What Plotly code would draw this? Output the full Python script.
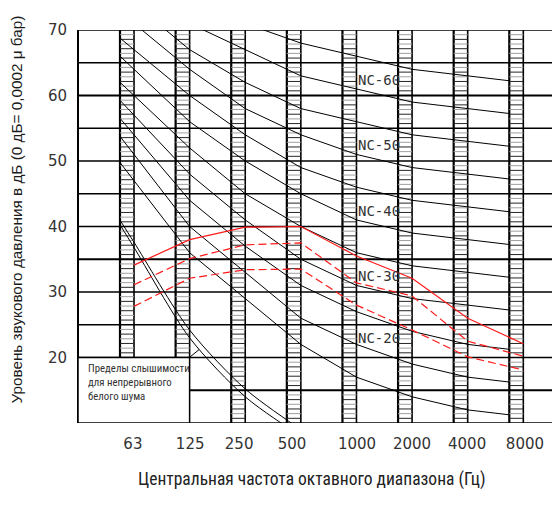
import numpy as np
import plotly.graph_objects as go

# ---------------- data ----------------
bands = ["63", "125", "250", "500", "1000", "2000", "4000", "8000"]

nc15 = [47, 36, 29, 22, 17, 14, 12, 11]
nc20 = [51, 40, 33, 26, 22, 19, 17, 16]
nc25 = [54, 44, 37, 31, 27, 24, 22, 21]
nc30 = [57, 48, 41, 35, 31, 29, 28, 27]
nc35 = [60, 52, 45, 40, 36, 34, 33, 32]
nc40 = [64, 56, 50, 45, 41, 39, 38, 37]
nc45 = [67, 60, 54, 49, 46, 44, 43, 42]
nc50 = [71, 64, 58, 54, 51, 49, 48, 47]
nc55 = [74, 67, 62, 58, 56, 54, 53, 52]
nc60 = [77, 71, 67, 63, 61, 59, 58, 57]
nc65 = [80, 75, 71, 68, 66, 64, 63, 62]
nc_curves = [nc15, nc20, nc25, nc30, nc35, nc40, nc45, nc50, nc55, nc60, nc65]
nc_names = ["NC-15", "NC-20", "NC-25", "NC-30", "NC-35", "NC-40",
            "NC-45", "NC-50", "NC-55", "NC-60", "NC-65"]
labelled = ["NC-20", "NC-30", "NC-40", "NC-50", "NC-60"]

red_solid = [34.1, 38.0, 39.9, 40.0, 35.5, 32.1, 26.0, 22.1]
red_dash_upper = [31.1, 35.1, 37.2, 37.5, 31.4, 29.4, 22.5, 20.2]
red_dash_lower = [27.8, 32.1, 33.4, 33.5, 28.0, 24.2, 20.1, 18.1]

# threshold of hearing (63 .. 500 Hz)
threshold_a = [36.8, 23.0, 14.0, 8.0]
threshold_b = [37.6, 24.2, 15.2, 9.0]

y_ticks = [20, 30, 40, 50, 60, 70]

# ---------------- style ----------------
W = 0.2517                     # ladder width (band point sits on its right edge)
X_MIN, X_MAX = -1.007, 7.66    # axis range, band index units
FRAME_L, FRAME_R = -W, 7 - W   # curves are drawn between ladder 0 and ladder 7 left edges
Y_MIN, Y_MAX = 10, 70
label_offsets = [-0.02, 0.01, -0.11, -0.16, 0.01, 0.0, -0.01, 0.03]
NARROW = "Roboto Condensed, Liberation Sans Narrow, Arial Narrow, DejaVu Sans Condensed, sans-serif"

idx = np.arange(len(bands))
fig = go.Figure()


def framed(xs, ys):
    """Extend the first segment to the left frame and cut the curve at the right frame."""
    xs = np.asarray(xs, float)
    ys = np.asarray(ys, float)
    slope0 = (ys[1] - ys[0]) / (xs[1] - xs[0])
    y_left = ys[0] + slope0 * (FRAME_L - xs[0])
    keep = xs <= FRAME_R
    out_x = [FRAME_L] + list(xs[keep])
    out_y = [y_left] + list(ys[keep])
    if xs[-1] > FRAME_R:
        out_x.append(FRAME_R)
        out_y.append(float(np.interp(FRAME_R, xs, ys)))
    return out_x, out_y


# ladder rungs
ladder_left = idx - W
rung_x = {"k": [], "g": []}
rung_y = {"k": [], "g": []}
step = 5 / 7
for i, xl in enumerate(ladder_left):
    y0 = 20 if i < 2 else Y_MIN
    for band_lo in range(int(y0), Y_MAX, 5):
        for k in range(1, 7):
            yy = band_lo + k * step
            key = "k" if k % 2 else "g"
            rung_x[key] += [xl, xl + W, None]
            rung_y[key] += [yy, yy, None]
for key, col in (("g", "#a0a0a0"), ("k", "#262626")):
    fig.add_trace(go.Scatter(x=rung_x[key], y=rung_y[key], mode="lines",
                             line=dict(color=col, width=1), hoverinfo="skip",
                             showlegend=False))

shapes = []
# horizontal grid lines
for v in range(Y_MIN, Y_MAX + 1, 5):
    w = 2 if v in (60, 35, 15) else 1.5
    if v == 15:
        shapes.append(dict(type="line", xref="x", yref="y", x0=1, x1=X_MAX,
                           y0=v, y1=v, line=dict(color="black", width=w), layer="below"))
    else:
        shapes.append(dict(type="line", xref="paper", yref="y", x0=0, x1=1,
                           y0=v, y1=v, line=dict(color="black", width=w), layer="below"))
# left border
shapes.append(dict(type="line", xref="paper", yref="y", x0=0, x1=0, y0=Y_MIN, y1=Y_MAX,
                   line=dict(color="black", width=2), layer="below"))
# ladder edges
for i, xl in enumerate(ladder_left):
    y0 = 20 if i < 2 else Y_MIN
    for xx, w in ((xl, 2.2), (xl + W, 1.6)):
        shapes.append(dict(type="line", xref="x", yref="y", x0=xx, x1=xx, y0=y0, y1=Y_MAX,
                           line=dict(color="black", width=w), layer="below"))
# legend box (bottom-left)
shapes.append(dict(type="rect", xref="x", yref="y", x0=X_MIN, x1=1,
                   y0=Y_MIN, y1=20, line=dict(color="black", width=1.5),
                   fillcolor="white", layer="below"))

# NC curves
for name, vals in zip(nc_names, nc_curves):
    cx, cy = framed(idx, vals)
    fig.add_trace(go.Scatter(x=cx, y=cy, mode="lines", name=name,
                             line=dict(color="black", width=1), showlegend=False))

# threshold of hearing curves
for vals in (threshold_a, threshold_b):
    tx, ty = framed(idx[:len(vals)], vals)
    fig.add_trace(go.Scatter(x=tx, y=ty, mode="lines",
                             line=dict(color="black", width=1, shape="spline", smoothing=0.8),
                             showlegend=False))

# red curves
fig.add_trace(go.Scatter(x=idx, y=red_solid, mode="lines",
                         line=dict(color="#ff1a1a", width=1.2), showlegend=False))
for vals in (red_dash_upper, red_dash_lower):
    fig.add_trace(go.Scatter(x=idx, y=vals, mode="lines",
                             line=dict(color="#ff1a1a", width=1.2, dash="8px,4px"),
                             showlegend=False))

annotations = []
# NC labels
for name, vals in zip(nc_names, nc_curves):
    if name in labelled:
        xl = 4.4
        yl = vals[4] + (vals[5] - vals[4]) * (xl - 4) + 2.2
        annotations.append(dict(x=xl, y=yl, xref="x", yref="y", text=name, showarrow=False,
                                font=dict(family="DejaVu Sans Mono", size=14, color="#333")))
# box text
annotations.append(dict(xref="paper", yref="paper", x=0.0166, y=0.102, xanchor="left",
                        yanchor="middle", align="left", showarrow=False,
                        text="Пределы слышимости<br>для непрерывного<br>белого шума",
                        font=dict(family=NARROW, size=10.8, color="#333")))
# leader line
annotations.append(dict(x=1.17, y=21.2, ax=0.98, ay=19.9, xref="x", yref="y",
                        axref="x", ayref="y", text="", showarrow=True, arrowhead=0,
                        arrowwidth=1, arrowcolor="black"))
# axis titles
annotations.append(dict(xref="paper", yref="paper", x=-0.1266, y=0.543, textangle=-90,
                        xanchor="center", yanchor="middle", showarrow=False,
                        text="Уровень звукового давления в дБ (0 дБ= 0,0002 μ бар)",
                        font=dict(family="Liberation Sans, Arial, sans-serif", size=15.3, color="#1a1a1a")))
annotations.append(dict(xref="paper", yref="paper", x=0.485, y=-0.145, xanchor="center",
                        yanchor="middle", showarrow=False,
                        text="Центральная частота октавного диапазона (Гц)",
                        font=dict(family=NARROW, size=17.5, color="#222")))

fig.update_layout(
    width=552, height=497,
    margin=dict(l=70, r=0, t=22, b=82),
    paper_bgcolor="white", plot_bgcolor="white",
    shapes=shapes, annotations=annotations,
    xaxis=dict(range=[X_MIN, X_MAX], showgrid=False, zeroline=False, showline=False,
               tickvals=[i + o for i, o in zip(idx, label_offsets)], ticktext=bands,
               ticks="", ticklabelstandoff=10,
               tickfont=dict(family="DejaVu Sans", size=15, color="#333")),
    yaxis=dict(range=[Y_MIN, Y_MAX], showgrid=False, zeroline=False, showline=False,
               tickvals=y_ticks, ticks="", ticklabelstandoff=10,
               tickfont=dict(family="DejaVu Sans", size=15, color="#333")),
    showlegend=False,
)

fig.write_html("out.html")
